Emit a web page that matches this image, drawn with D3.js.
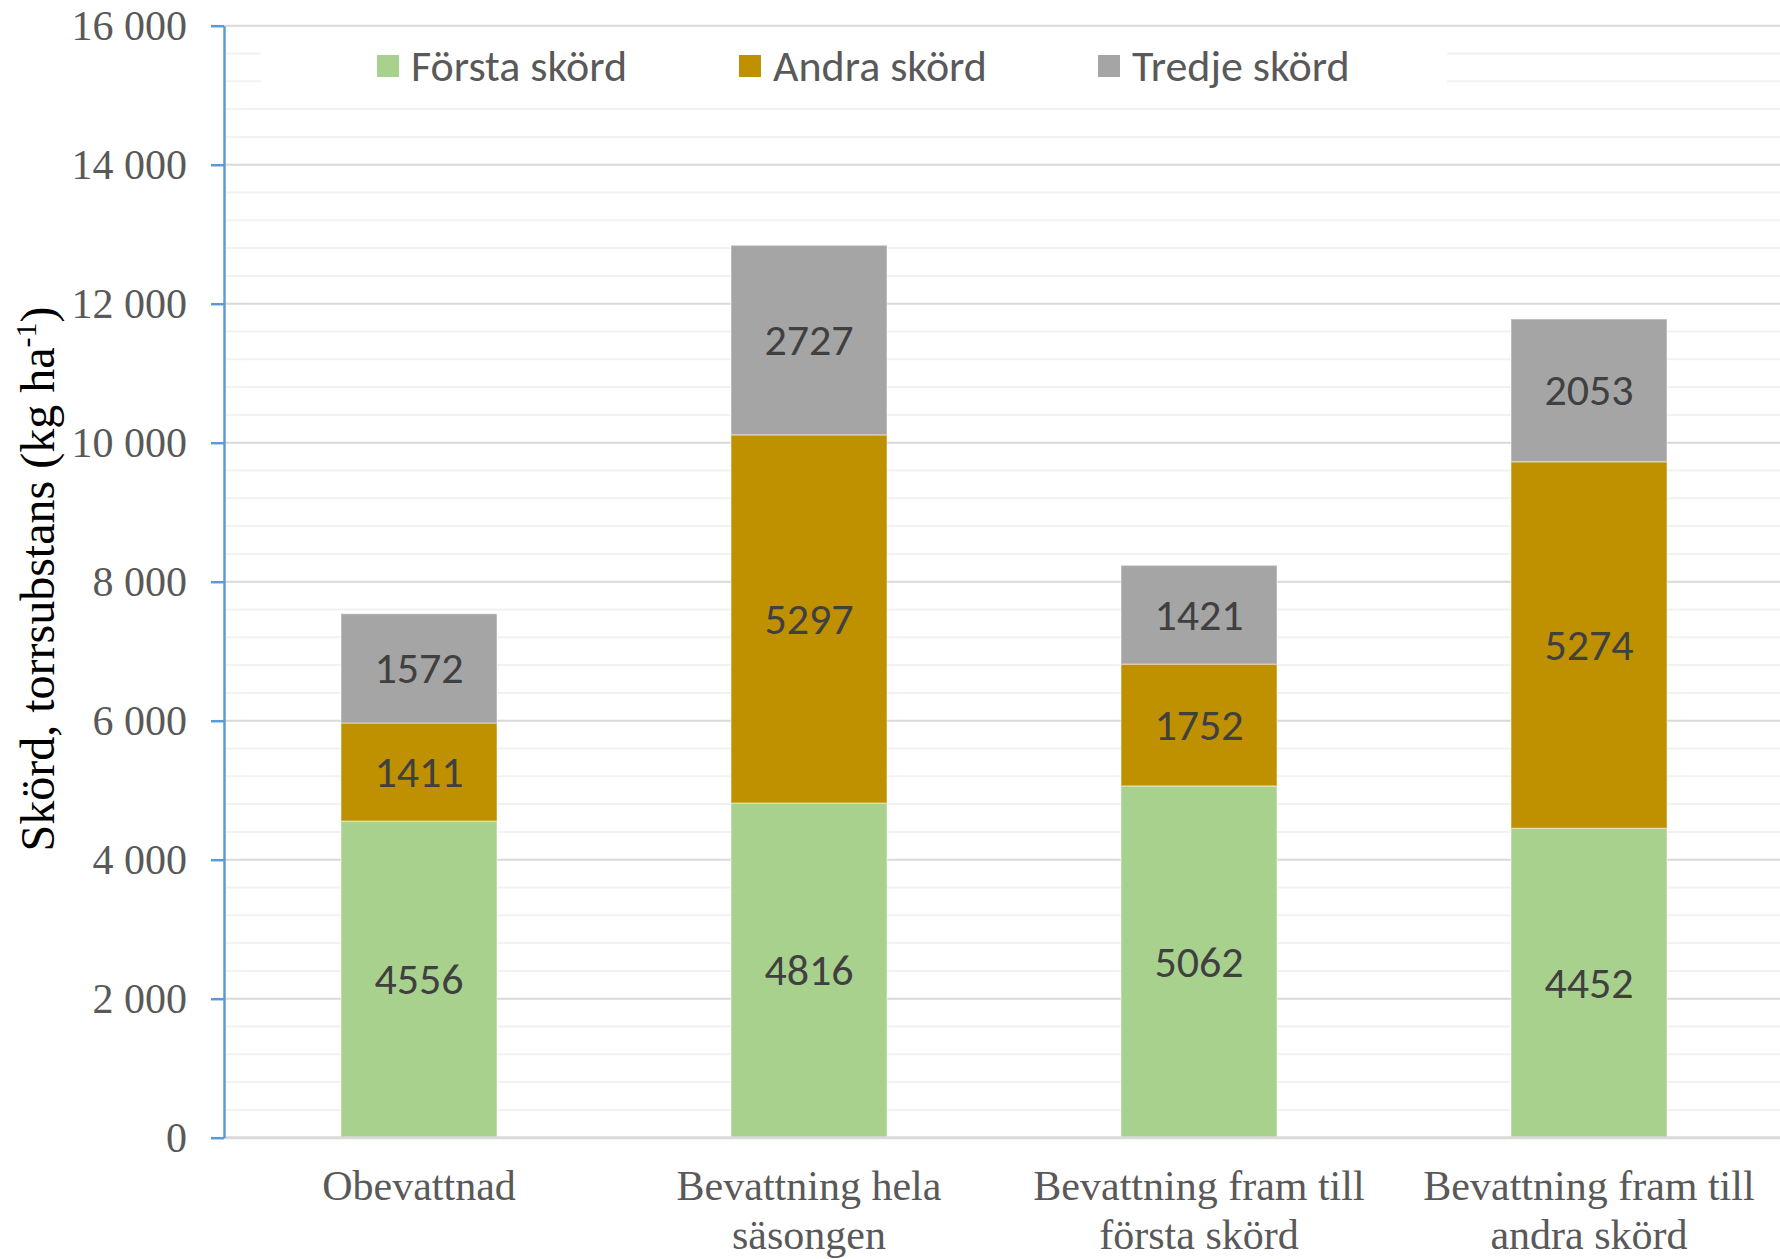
<!DOCTYPE html>
<html>
<head>
<meta charset="utf-8">
<script src="https://cdn.jsdelivr.net/npm/d3@7"></script>
<style>
  html, body { margin: 0; padding: 0; background: #fff; }
  svg { display: block; }
</style>
</head>
<body>
<svg id="chart" width="1780" height="1259"></svg>
<script>
// --- data ---
const categories = [
    ["Obevattnad"],
    ["Bevattning hela", "säsongen"],
    ["Bevattning fram till", "första skörd"],
    ["Bevattning fram till", "andra skörd"]
];
const seriesNames = ["Första skörd", "Andra skörd", "Tredje skörd"];
const forstaSkord = [4556, 4816, 5062, 4452];
const andraSkord = [1411, 5297, 1752, 5274];
const tredjeSkord = [1572, 2727, 1421, 2053];
const yTicks = [0, 2000, 4000, 6000, 8000, 10000, 12000, 14000, 16000];
const colors = ["#A9D18E", "#BF9000", "#A5A5A5"];

const rows = categories.map((c, i) => ({
    key: i, "Första skörd": forstaSkord[i], "Andra skörd": andraSkord[i], "Tredje skörd": tredjeSkord[i]
}));

const svg = d3.select("#chart");
const plotLeft = 224, plotRight = 1784, plotTop = 25.7, plotBottom = 1137.7;

const x = d3.scaleBand().domain(d3.range(categories.length)).range([plotLeft, plotRight]).paddingInner(0.6).paddingOuter(0.3);
const y = d3.scaleLinear().domain([0, 16000]).range([plotBottom, plotTop]);

const fmt = d3.formatLocale({ decimal: ",", thousands: "\u00a0", grouping: [3], currency: ["", ""] }).format(",d");

// minor gridlines
svg.append("g").selectAll("line")
    .data(d3.range(400, 16000, 400).filter(v => v % 2000 !== 0))
    .join("line")
    .attr("x1", plotLeft).attr("x2", 1780)
    .attr("y1", d => y(d)).attr("y2", d => y(d))
    .attr("stroke", "#F2F2F2").attr("stroke-width", 2);

// major gridlines
svg.append("g").selectAll("line")
    .data(yTicks.filter(v => v > 0))
    .join("line")
    .attr("x1", plotLeft).attr("x2", 1780)
    .attr("y1", d => y(d)).attr("y2", d => y(d))
    .attr("stroke", "#D9D9D9").attr("stroke-width", 2);

// legend background
svg.append("rect")
    .attr("x", 261).attr("y", 33).attr("width", 1447 - 261).attr("height", 66)
    .attr("fill", "#fff");

// bars
const stacked = d3.stack().keys(seriesNames)(rows);
const layer = svg.append("g").selectAll("g")
    .data(stacked)
    .join("g")
    .attr("fill", (d, i) => colors[i]);

layer.selectAll("rect")
    .data(d => d)
    .join("rect")
    .attr("x", d => x(d.data.key))
    .attr("width", x.bandwidth())
    .attr("y", d => y(d[1]))
    .attr("height", d => y(d[0]) - y(d[1]))
    .attr("stroke", "#fff").attr("stroke-opacity", 0.35).attr("stroke-width", 1.5);

layer.selectAll("text")
    .data(d => d.map(v => ({ v, val: v[1] - v[0] })))
    .join("text")
    .attr("x", d => x(d.v.data.key) + x.bandwidth() / 2)
    .attr("y", d => (y(d.v[0]) + y(d.v[1])) / 2)
    .attr("dy", "0.34em")
    .attr("text-anchor", "middle")
    .attr("font-family", "Carlito, Lato, sans-serif")
    .attr("font-size", 44)
    .attr("fill", "#404040")
    .text(d => d.val);

// x axis line
svg.append("line")
    .attr("x1", plotLeft).attr("x2", 1780)
    .attr("y1", plotBottom).attr("y2", plotBottom)
    .attr("stroke", "#D9D9D9").attr("stroke-width", 3);

// y axis
const yAxis = svg.append("g")
    .attr("transform", `translate(${plotLeft},0)`)
    .call(d3.axisLeft(y).tickValues(yTicks).tickSize(13).tickSizeOuter(0).tickPadding(24).tickFormat(fmt));
yAxis.select(".domain").attr("stroke", "#5B9BD5").attr("stroke-width", 2.5);
yAxis.selectAll(".tick line").attr("stroke", "#5B9BD5").attr("stroke-width", 2.5);
yAxis.selectAll(".tick text")
    .attr("font-family", "'Liberation Serif', 'Times New Roman', serif")
    .attr("font-size", 42)
    .attr("fill", "#595959");

// x category labels
const xl = svg.append("g").selectAll("text")
    .data(categories.map((c, i) => ({ c, i })))
    .join("text")
    .attr("x", d => x(d.i) + x.bandwidth() / 2)
    .attr("y", 1200)
    .attr("text-anchor", "middle")
    .attr("font-family", "'Liberation Serif', 'Times New Roman', serif")
    .attr("font-size", 42)
    .attr("fill", "#595959");
xl.selectAll("tspan")
    .data(d => d.c.map((line, j) => ({ line, j, xx: x(d.i) + x.bandwidth() / 2 })))
    .join("tspan")
    .attr("x", d => d.xx)
    .attr("dy", d => d.j === 0 ? 0 : 49)
    .text(d => d.line);

// y axis title
const title = svg.append("text")
    .attr("transform", "translate(54,579) rotate(-90)")
    .attr("text-anchor", "middle")
    .attr("font-family", "'Liberation Serif', 'Times New Roman', serif")
    .attr("font-size", 48)
    .attr("fill", "#000");
title.append("tspan").text("Skörd, torrsubstans (kg ha");
title.append("tspan").attr("font-size", 30).attr("dy", -18).text("-1");
title.append("tspan").attr("dy", 18).text(")");

// legend
const legendX = [377, 739, 1098];
const legend = svg.append("g").selectAll("g")
    .data(seriesNames)
    .join("g")
    .attr("transform", (d, i) => `translate(${legendX[i]},66)`);
legend.append("rect")
    .attr("x", 0).attr("y", -11).attr("width", 22).attr("height", 22)
    .attr("fill", (d, i) => colors[i]);
legend.append("text")
    .attr("x", 34).attr("dy", "0.34em")
    .attr("font-family", "Carlito, Lato, sans-serif")
    .attr("font-size", 44)
    .attr("fill", "#595959")
    .text(d => d);
</script>
</body>
</html>
